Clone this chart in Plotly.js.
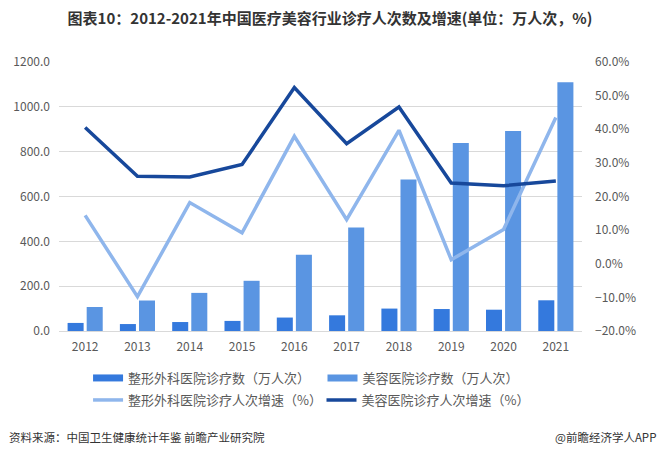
<!DOCTYPE html>
<html>
<head>
<meta charset="utf-8">
<script src="https://cdn.plot.ly/plotly-3.0.1.min.js"></script>
<style>
html,body{margin:0;padding:0;background:#fff;}
#chart{width:660px;height:461px;}
</style>
</head>
<body>
<div id="chart"></div>
<script>
const years = ['2012','2013','2014','2015','2016','2017','2018','2019','2020','2021'];
// 诊疗数（万人次）
const plasticVisits = [36, 31, 40, 45, 60, 70, 100, 98, 95, 137];
const beautyVisits = [107, 136, 170, 224, 340, 462, 676, 839, 892, 1110];
// 诊疗人次增速（%）
const plasticGrowth = [14.4, -9.8, 18.2, 9.2, 37.9, 13.1, 39.7, 1.2, 10.2, 43.5];
const beautyGrowth = [40.5, 26.0, 25.8, 29.5, 52.4, 35.7, 46.6, 24.0, 23.2, 24.6];

const names = ['整形外科医院诊疗数（万人次）','美容医院诊疗数（万人次）','整形外科医院诊疗人次增速（%）','美容医院诊疗人次增速（%）'];

const C_DARKBAR = '#3479dd';
const C_LIGHTBAR = '#5a95e2';
const C_LIGHTLINE = '#8fb6ec';
const C_DARKLINE = '#17489b';
const FONT = 'Noto Sans CJK SC, Noto Sans, sans-serif';

const traces = [
  {type:'bar', x:years, y:plasticVisits, name:names[0], marker:{color:C_DARKBAR}, showlegend:false, hoverinfo:'skip'},
  {type:'bar', x:years, y:beautyVisits, name:names[1], marker:{color:C_LIGHTBAR}, showlegend:false, hoverinfo:'skip'},
  {type:'scatter', mode:'lines', x:years, y:plasticGrowth, yaxis:'y2', name:names[2], line:{color:C_LIGHTLINE, width:3.5}, legend:'legend3'},
  {type:'scatter', mode:'lines', x:years, y:beautyGrowth, yaxis:'y2', name:names[3], line:{color:C_DARKLINE, width:3.5}, legend:'legend4'},
  // legend swatches for bars
  {type:'scatter', mode:'lines', x:[years[0]], y:[null], name:names[0], line:{color:C_DARKBAR, width:7}, legend:'legend'},
  {type:'scatter', mode:'lines', x:[years[0]], y:[null], name:names[1], line:{color:C_LIGHTBAR, width:7}, legend:'legend2'}
];

const legendBase = {
  orientation:'h', xanchor:'left', yanchor:'top',
  font:{family:FONT, size:13, color:'#595959'},
  bgcolor:'rgba(0,0,0,0)'
};
const px = v => (v - 59) / 522;
const py = v => (331 - v) / 269;

const layout = {
  width:660, height:461,
  margin:{l:59, r:78, t:62, b:130},
  paper_bgcolor:'#ffffff', plot_bgcolor:'#ffffff',
  barmode:'group', bargap:0.27, bargroupgap:0.16,
  title:{
    text:'<b>图表10：2012-2021年中国医疗美容行业诊疗人次数及增速(单位：万人次，%)</b>',
    x:0.5, xref:'container', xanchor:'center',
    y:1-19/461, yref:'container', yanchor:'middle',
    font:{family:FONT, size:15, color:'#333333'}
  },
  xaxis:{
    type:'category', tickfont:{family:FONT, size:12, color:'#595959'},
    showgrid:false, showline:false, ticks:'', ticklabelstandoff:7, fixedrange:true
  },
  yaxis:{
    range:[0,1200], dtick:200, tickformat:'.1f',
    tickfont:{family:FONT, size:12, color:'#595959'},
    gridcolor:'#d9d9d9', gridwidth:1, zeroline:true, zerolinecolor:'#d9d9d9',
    showline:false, ticks:'', ticklabelstandoff:8
  },
  yaxis2:{
    overlaying:'y', side:'right', range:[-20,60], dtick:10,
    tickformat:'.1f', ticksuffix:'%',
    tickfont:{family:FONT, size:12, color:'#595959'},
    showgrid:false, zeroline:false, showline:false, ticks:'', ticklabelstandoff:12
  },
  legend:Object.assign({}, legendBase, {x:px(88), y:py(363)}),
  legend2:Object.assign({}, legendBase, {x:px(322), y:py(363)}),
  legend3:Object.assign({}, legendBase, {x:px(88), y:py(385)}),
  legend4:Object.assign({}, legendBase, {x:px(321), y:py(385)}),
  annotations:[
    {text:'资料来源：中国卫生健康统计年鉴 前瞻产业研究院', xref:'paper', yref:'paper',
     x:px(7), y:py(437), xanchor:'left', yanchor:'middle', showarrow:false,
     font:{family:FONT, size:11.5, color:'#333333'}},
    {text:'@前瞻经济学人APP', xref:'paper', yref:'paper',
     x:px(657), y:py(437), xanchor:'right', yanchor:'middle', showarrow:false,
     font:{family:FONT, size:11.5, color:'#333333'}}
  ]
};

Plotly.newPlot('chart', traces, layout, {displayModeBar:false, staticPlot:true});
</script>
</body>
</html>
